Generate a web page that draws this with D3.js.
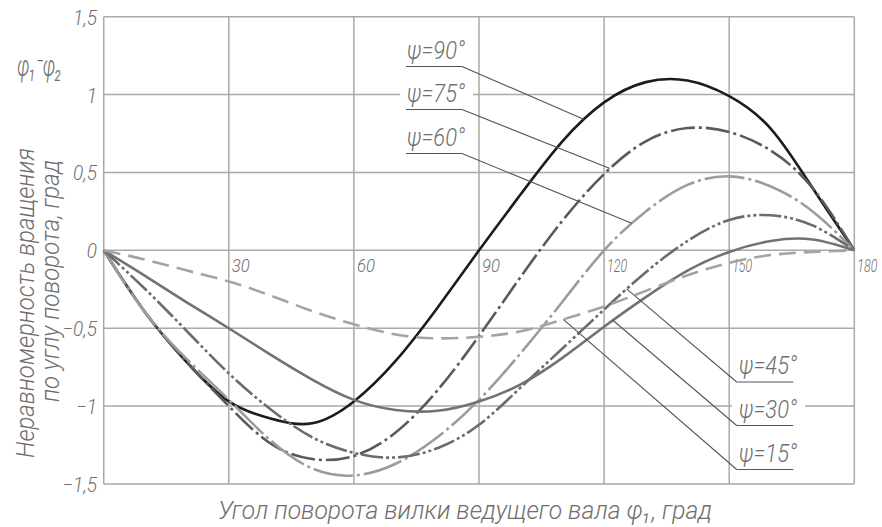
<!DOCTYPE html>
<html>
<head>
<meta charset="utf-8">
<script src="https://cdn.jsdelivr.net/npm/d3@7"></script>
<style>
  html, body { margin: 0; padding: 0; background: #fff; }
  svg text { font-family: Roboto, "DejaVu Sans Condensed", "Liberation Sans", sans-serif; font-weight: 300; font-style: italic; fill: #6e6e6e; }
</style>
</head>
<body>
<svg id="chart" width="882" height="527"></svg>
<script>
// Shaft rotation angle, degrees
const angles = [0, 10, 20, 30, 40, 50, 60, 70, 80, 90, 100, 110, 120, 130, 140, 150, 160, 170, 180];

// Rotation non-uniformity φ1−φ2 (deg) for each joint angle ψ
const psi90 = [0, -0.40, -0.72, -0.97, -1.08, -1.11, -0.97, -0.71, -0.37, 0, 0.36, 0.70, 0.95, 1.08, 1.09, 0.99, 0.78, 0.40, 0];
const psi75 = [0, -0.40, -0.72, -1.00, -1.24, -1.34, -1.32, -1.17, -0.90, -0.55, -0.17, 0.19, 0.49, 0.70, 0.785, 0.76, 0.64, 0.40, 0];
const psi60 = [0, -0.40, -0.70, -0.96, -1.22, -1.40, -1.445, -1.37, -1.20, -0.96, -0.66, -0.33, 0.0, 0.25, 0.42, 0.475, 0.41, 0.25, 0];
const psi45 = [0, -0.25, -0.52, -0.79, -1.02, -1.20, -1.30, -1.33, -1.27, -1.12, -0.88, -0.63, -0.38, -0.14, 0.06, 0.195, 0.225, 0.16, 0];
const psi30 = [0, -0.165, -0.335, -0.50, -0.67, -0.83, -0.96, -1.025, -1.03, -0.97, -0.86, -0.69, -0.49, -0.30, -0.13, -0.01, 0.06, 0.07, 0];
const psi15 = [0, -0.06, -0.13, -0.20, -0.29, -0.39, -0.475, -0.54, -0.565, -0.555, -0.52, -0.445, -0.36, -0.26, -0.16, -0.08, -0.03, -0.01, 0];

// Axis ticks
const xTicks = [30, 60, 90, 120, 150, 180];
const xGrid = [0, 30, 60, 90, 120, 150, 180];
const yTicks = [1.5, 1, 0.5, 0, -0.5, -1, -1.5];
const yTickLabels = ["1,5", "1", "0,5", "0", "\u22120,5", "\u22121", "\u22121,5"];

// Curve labels and the shaft angle where each leader touches its curve
const labelNames = ["\u03c8=90\u00b0", "\u03c8=75\u00b0", "\u03c8=60\u00b0", "\u03c8=45\u00b0", "\u03c8=30\u00b0", "\u03c8=15\u00b0"];
const leaderAngles = [115.1, 121.4, 126.6, 125.4, 122.1, 110.2];

const series = [psi90, psi75, psi60, psi45, psi30, psi15];
const styles = [
  { color: "#1c1c1c", dash: null },
  { color: "#5a5a5a", dash: "24,4,3,4" },
  { color: "#9c9c9c", dash: "40,4,3,4" },
  { color: "#6c6c6c", dash: "22,3,3,3,3,3" },
  { color: "#727272", dash: null },
  { color: "#a4a4a4", dash: "17,8" }
];

const svg = d3.select("#chart");
const plotLeft = 103.7, plotRight = 854.3, plotTop = 16.7, plotBottom = 484;

const x = d3.scaleLinear().domain([0, 180]).range([plotLeft, plotRight]);
const y = d3.scaleLinear().domain([-1.5, 1.5]).range([plotBottom, plotTop]);

// Narrow a text horizontally to a fraction of its natural width
function condense(sel, k) {
  sel.each(function () {
    const w = this.getComputedTextLength();
    d3.select(this).attr("textLength", w * k).attr("lengthAdjust", "spacingAndGlyphs");
  });
  return sel;
}

// Grid
const grid = svg.append("g").attr("stroke", "#a9a9a9").attr("stroke-width", 1.5);
grid.selectAll("line.v").data(xGrid).join("line")
  .attr("class", "v")
  .attr("x1", d => x(d)).attr("x2", d => x(d))
  .attr("y1", plotTop).attr("y2", plotBottom);
grid.selectAll("line.h").data(yTicks).join("line")
  .attr("class", "h")
  .attr("x1", plotLeft).attr("x2", plotRight)
  .attr("y1", d => y(d)).attr("y2", d => y(d));

// Y tick labels
condense(svg.append("g").selectAll("text").data(yTicks).join("text")
  .attr("x", 97).attr("y", d => y(d) + 8)
  .attr("text-anchor", "end")
  .style("font-size", "20px")
  .text((d, i) => yTickLabels[i]), 0.95);

// X tick labels
svg.append("g").selectAll("text").data(xTicks).join("text")
  .attr("x", d => x(d) + 3)
  .attr("y", y(0) + 22)
  .attr("textLength", d => String(d).length > 2 ? 20 : 18)
  .attr("lengthAdjust", "spacingAndGlyphs")
  .style("font-size", "19px")
  .text(d => d);

// Curves
const line = d3.line()
  .x((d, i) => x(angles[i]))
  .y(d => y(d))
  .curve(d3.curveNatural);

const paths = series.map((s, i) => svg.append("path")
  .datum(s)
  .attr("fill", "none")
  .attr("stroke", styles[i].color)
  .attr("stroke-width", 2.6)
  .attr("stroke-dasharray", styles[i].dash)
  .attr("d", line)
  .node());

// Point on a drawn curve at a given shaft angle
function pointAt(path, deg) {
  const tx = x(deg);
  let lo = 0, hi = path.getTotalLength();
  for (let k = 0; k < 40; k++) {
    const mid = (lo + hi) / 2;
    if (path.getPointAtLength(mid).x < tx) lo = mid; else hi = mid;
  }
  return path.getPointAtLength((lo + hi) / 2);
}

// Curve labels with underline and leader
const labelLayout = [
  { x: 407, base: 58.5, ux1: 406, ux2: 462, side: "right", knock: false },
  { x: 407, base: 101.5, ux1: 406, ux2: 462, side: "right", knock: true },
  { x: 407, base: 145.5, ux1: 406, ux2: 462, side: "right", knock: false },
  { x: 739, base: 374, ux1: 736.7, ux2: 793.3, side: "left", knock: false },
  { x: 739, base: 417.5, ux1: 736.7, ux2: 793.3, side: "left", knock: true },
  { x: 739, base: 461.5, ux1: 736.7, ux2: 793.3, side: "left", knock: false }
];

const labels = svg.append("g");
labelLayout.forEach((L, i) => {
  if (L.knock) {
    labels.append("rect")
      .attr("x", L.x - 7).attr("y", L.base - 22)
      .attr("width", 73).attr("height", 26)
      .attr("fill", "#fff");
  }
  labels.append("text")
    .attr("x", L.x).attr("y", L.base)
    .attr("textLength", 58).attr("lengthAdjust", "spacingAndGlyphs")
    .style("font-size", "26px")
    .text(labelNames[i]);
  const uy = L.base + 8;
  labels.append("line")
    .attr("x1", L.ux1).attr("x2", L.ux2).attr("y1", uy).attr("y2", uy)
    .attr("stroke", "#555").attr("stroke-width", 1.1);
  const p = pointAt(paths[i], leaderAngles[i]);
  const sx = L.side === "right" ? L.ux2 : L.ux1;
  labels.append("line")
    .attr("x1", sx).attr("y1", uy).attr("x2", p.x).attr("y2", p.y)
    .attr("stroke", "#555").attr("stroke-width", 1.1);
});

// Axis titles
svg.append("text")
  .attr("x", 17).attr("y", 76)
  .attr("textLength", 45).attr("lengthAdjust", "spacingAndGlyphs")
  .style("font-size", "30px")
  .text("\u03c6\u2081\u207b\u03c6\u2082");

svg.append("text")
  .attr("transform", "translate(34,303) rotate(-90)")
  .attr("text-anchor", "middle")
  .attr("textLength", 310).attr("lengthAdjust", "spacingAndGlyphs")
  .style("font-size", "25px")
  .text("Неравномерность вращения");

svg.append("text")
  .attr("transform", "translate(59,281) rotate(-90)")
  .attr("text-anchor", "middle")
  .attr("textLength", 242).attr("lengthAdjust", "spacingAndGlyphs")
  .style("font-size", "25px")
  .text("по углу поворота, град");

svg.append("text")
  .attr("x", 218).attr("y", 519)
  .attr("textLength", 494).attr("lengthAdjust", "spacingAndGlyphs")
  .style("font-size", "25px")
  .text("Угол поворота вилки ведущего вала \u03c6\u2081, град");
</script>
</body>
</html>
